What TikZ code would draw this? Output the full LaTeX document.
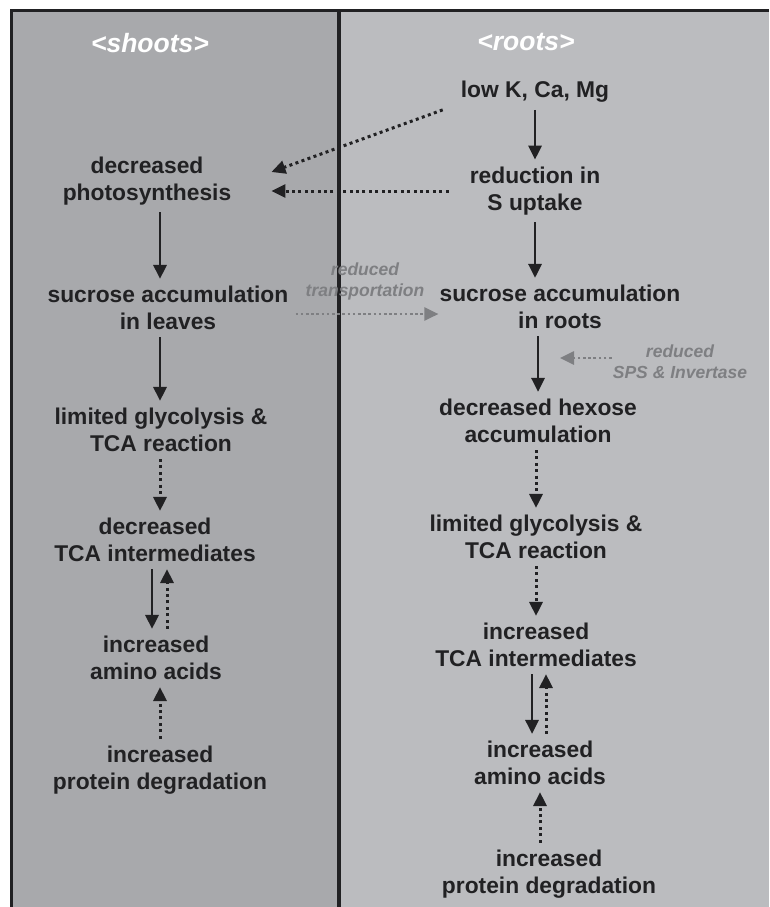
\documentclass[tikz,border=0pt]{standalone}
\usepackage{fontspec}
\setmainfont{Liberation Sans}
\usepackage{tikz}
\usetikzlibrary{arrows.meta}
\usepackage{xcolor}
\definecolor{ColShoot}{RGB}{168,169,172}
\definecolor{ColRoot}{RGB}{187,188,191}
\definecolor{ColLine}{RGB}{33,33,35}
\definecolor{ColNote}{RGB}{126,127,130}
\tikzstyle{Step}=[align=center,text=ColLine,inner sep=1pt,
font=\bfseries\fontsize{22.8}{27}\selectfont]
\tikzstyle{Side}=[text=white,inner sep=1pt,font=\bfseries\itshape\fontsize{26.5}{30}\selectfont]
\tikzstyle{Note}=[align=center,text=ColNote,inner sep=1pt,
font=\bfseries\itshape\fontsize{17.5}{21}\selectfont]
\tikzstyle{Strong}=[ColLine,line width=2.8pt,-{Triangle[length=14pt,width=13pt]}]
\tikzstyle{Weak}=[ColLine,line width=3pt,dash pattern=on 3pt off 3.4pt,
-{Triangle[length=14pt,width=13pt]}]
\tikzstyle{Faint}=[ColNote,line width=2.6pt,dash pattern=on 2.6pt off 2.6pt,
-{Triangle[length=14pt,width=13pt]}]
\tikzstyle{Gap}=[shorten <=6pt,shorten >=6pt]

\begin{document}
\begin{tikzpicture}[x=1pt,y=-1pt]
    \useasboundingbox (0,0) rectangle (769,907);
    \fill[white] (0,0) rectangle (769,907);
    \fill[ColShoot] (11,11) rectangle (339,907);
    \fill[ColRoot] (339,11) rectangle (769,907);
    \draw[ColLine,line width=3pt] (11,907) -- (11,11) -- (769,11);
    \draw[ColLine,line width=4pt] (339,11) -- (339,907);
        % shoots
        \node[Side](shoots)at(150,43){<shoots>};
        \node[Step](photo)at(147,181){decreased\\photosynthesis};
        \node[Step](leaves)at(168,308){sucrose accumulation\\in leaves};
        \node[Step](glyL)at(161,430){limited glycolysis \&\\TCA reaction};
        \node[Step](tcaL)at(155,540){decreased\\TCA intermediates};
        \node[Step](aminoL)at(156,658){increased\\amino acids};
        \node[Step](protL)at(160,770){increased\\protein degradation};
        % roots
        \node[Side](roots)at(526,42){<roots>};
        \node[Step](lowk)at(535,92){low K, Ca, Mg};
        \node[Step](uptake)at(535,191){reduction in\\S uptake};
        \node[Step](sucR)at(560,307){sucrose accumulation\\in roots};
        \node[Step](hexose)at(538,421){decreased hexose\\accumulation};
        \node[Step](glyR)at(536,537){limited glycolysis \&\\TCA reaction};
        \node[Step](tcaR)at(536,645){increased\\TCA intermediates};
        \node[Step](aminoR)at(540,763){increased\\amino acids};
        \node[Step](protR)at(549,874){increased\\protein degradation};
        % notes
        \node[Note](transp)at(365,281){reduced\\transportation};
        \node[Note](sps)at(680,362){reduced\\SPS \& Invertase};
        \coordinate(spsend)at(560,358);
        % shoots arrows
        \draw[Strong,Gap](photo.south -| protL)--(leaves.north -| protL);
        \draw[Strong,Gap](leaves.south -| protL)--(glyL.north -| protL);
        \draw[Weak,Gap](glyL.south -| protL)--(tcaL.north -| protL);
        \draw[Strong,Gap]([xshift=-8pt]tcaL.south -| protL)--([xshift=-8pt]aminoL.north -| protL);
        \draw[Weak,Gap]([xshift=7pt]aminoL.north -| protL)--([xshift=7pt]tcaL.south -| protL);
        \draw[Weak,Gap](protL.north)--(aminoL.south -| protL);
        % roots arrows
        \draw[Strong,Gap](lowk)--(uptake);
        \draw[Strong,Gap](uptake)--(sucR.north -| uptake);
        \draw[Strong,Gap](sucR.south -| hexose)--(hexose);
        \draw[Weak,Gap](hexose.south -| glyR)--(glyR);
        \draw[Weak,Gap](glyR)--(tcaR);
        \draw[Strong,Gap]([xshift=-4pt]tcaR.south)--([xshift=-4pt]aminoR.north -| tcaR);
        \draw[Weak,Gap]([xshift=10pt]aminoR.north -| tcaR)--([xshift=10pt]tcaR.south);
        \draw[Weak,Gap](protR.north -| aminoR)--(aminoR);
        % cross arrows
        \draw[Weak]([xshift=-17pt,yshift=-6pt]lowk.south west)--([yshift=9pt,xshift=39pt]photo.east);
        \draw[Weak]([xshift=-20pt]uptake.west)--([xshift=39pt]uptake.west -| photo.east);
        \draw[Faint]([yshift=-6pt,xshift=6pt]leaves.east)--([yshift=-6pt]leaves.east -| sucR.west);
        \draw[Faint]([yshift=4pt]sps.west)--(spsend);
\end{tikzpicture}
\end{document}
